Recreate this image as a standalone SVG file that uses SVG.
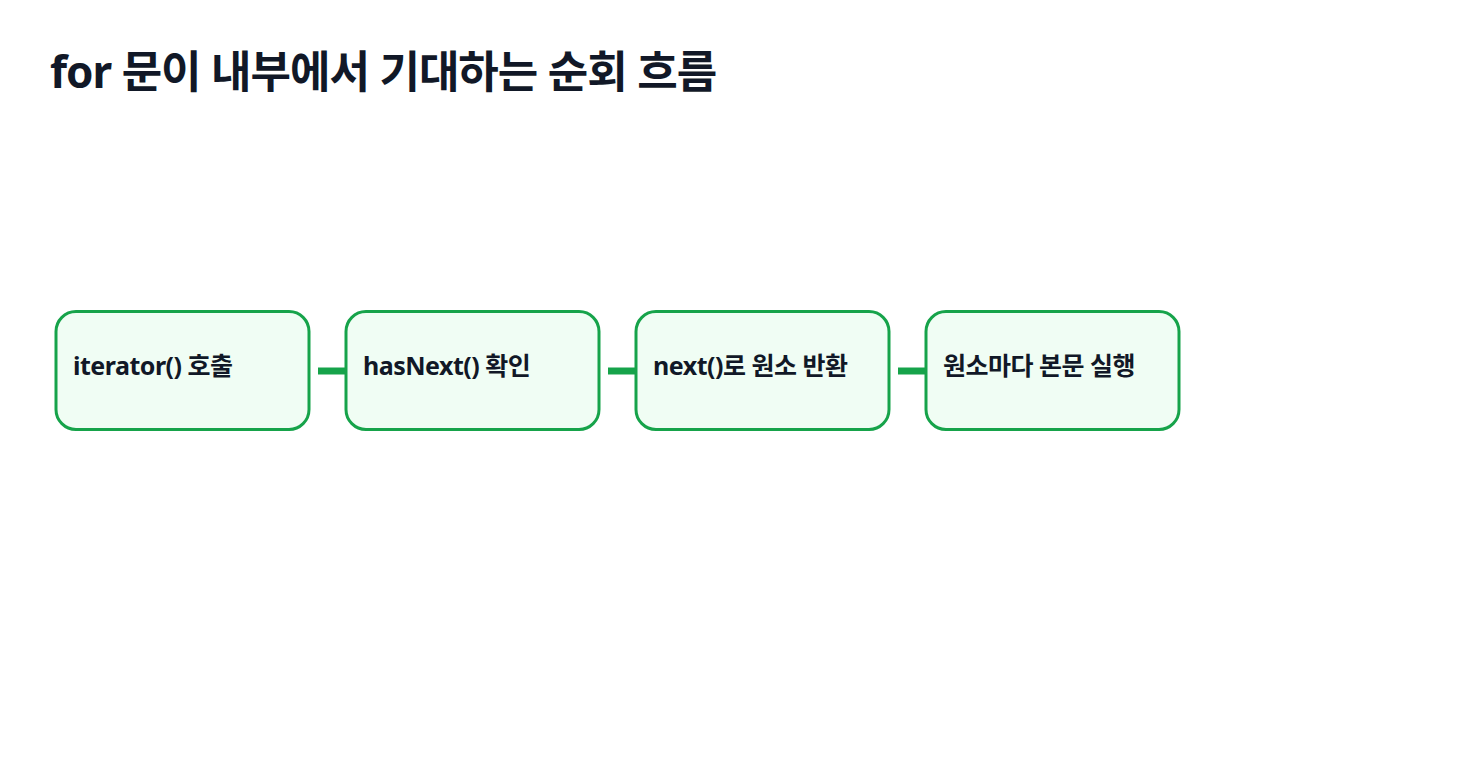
<svg xmlns="http://www.w3.org/2000/svg" width="1480" height="760" viewBox="0 0 1480 760">
<style>
.t{font-family:"Noto Sans","Noto Sans CJK KR",sans-serif;font-weight:700;fill:#111827}
.box{fill:#f0fdf4;stroke:#16a34a;stroke-width:3}
.c{stroke:#16a34a;stroke-width:7}
</style>
<rect width="1480" height="760" fill="#fff"/>
<text class="t" x="50" y="88" font-size="44" letter-spacing="-1">for 문이 내부에서 기대하는 순회 흐름</text>
<g id="connectors">
<line class="c" x1="318" y1="371" x2="346" y2="371"/>
<line class="c" x1="608" y1="371" x2="636" y2="371"/>
<line class="c" x1="898" y1="371" x2="926" y2="371"/>
</g>
<g id="n1"><rect class="box" x="56" y="311.5" width="253" height="118" rx="20"/><text class="t" x="73" y="375" font-size="25" letter-spacing="-0.5">iterator() 호출</text></g>
<g id="n2"><rect class="box" x="346" y="311.5" width="253" height="118" rx="20"/><text class="t" x="363" y="375" font-size="25" letter-spacing="-0.5">hasNext() 확인</text></g>
<g id="n3"><rect class="box" x="636" y="311.5" width="253" height="118" rx="20"/><text class="t" x="653" y="375" font-size="25" letter-spacing="-0.5">next()로 원소 반환</text></g>
<g id="n4"><rect class="box" x="926" y="311.5" width="253" height="118" rx="20"/><text class="t" x="943" y="375" font-size="25" letter-spacing="-0.5">원소마다 본문 실행</text></g>
</svg>
